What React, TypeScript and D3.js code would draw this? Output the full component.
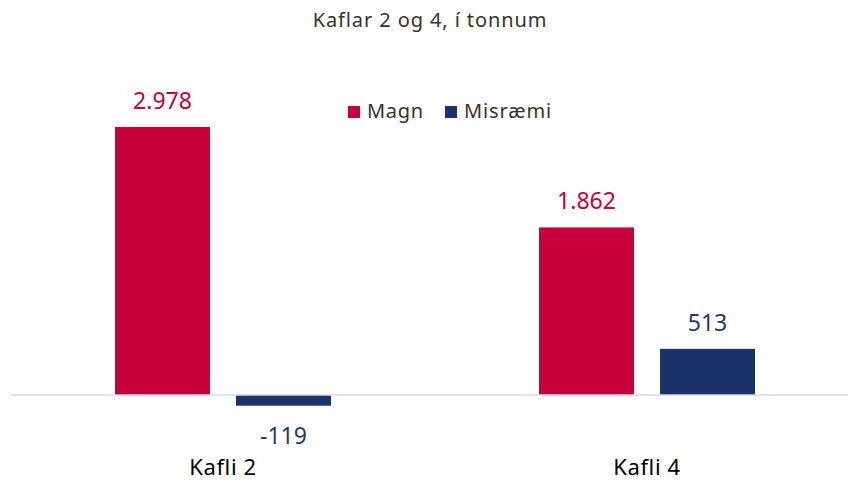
import React from "react";
import * as d3 from "d3";

const categories = ["Kafli 2", "Kafli 4"];
const seriesNames = ["Magn", "Misræmi"];
const magn = [2978, 1862];
const misraemi = [-119, 513];
const title = "Kaflar 2 og 4, í tonnum";

const colors: Record<string, string> = { Magn: "#C8003C", Misræmi: "#1B336A" };
const labelColors: Record<string, string> = { Magn: "#C8003C", Misræmi: "#1F3A73" };

const W = 848;
const H = 482;
const FONT = "'Noto Sans', 'Open Sans', sans-serif";

const fmt = (v: number) => {
  const s = Math.abs(v).toString().replace(/\B(?=(\d{3})+(?!\d))/g, ".");
  return (v < 0 ? "-" : "") + s;
};

export default function App() {
  const x0 = d3.scaleBand<string>().domain(categories).range([11, 859]).padding(0);
  const x1 = d3
    .scaleBand<string>()
    .domain(seriesNames)
    .range([-108, 108])
    .paddingInner(0.215)
    .paddingOuter(0);
  const y = d3.scaleLinear().domain([0, 2978]).range([395, 127]);

  const rows = categories.map((c, i) => ({ cat: c, values: [magn[i], misraemi[i]] }));

  return (
    <svg
      width={W}
      height={H}
      style={{ position: "absolute", left: 0, top: 0, fontFamily: FONT }}
    >
      <rect width={W} height={H} fill="#fff" />
      <text x={430} y={27} textAnchor="middle" fontSize={20} letterSpacing={0.9} fill="#333">
        {title}
      </text>

      {/* legend */}
      <g>
        <rect x={348} y={106} width={12} height={12} fill={colors.Magn} />
        <text x={367} y={118} fontSize={20} letterSpacing={0.7} fill="#333">Magn</text>
        <rect x={445} y={106} width={12} height={12} fill={colors["Misræmi"]} />
        <text x={464} y={118} fontSize={20} letterSpacing={0.9} fill="#333">Misræmi</text>
      </g>

      {rows.map((r) => {
        const cx = (x0(r.cat) as number) + x0.bandwidth() / 2;
        return (
          <g key={r.cat}>
            {r.values.map((v, j) => {
              const s = seriesNames[j];
              const bx = cx + (x1(s) as number);
              const bw = x1.bandwidth();
              const top = Math.min(y(v), y(0));
              const h = Math.abs(y(v) - y(0));
              const ly = v >= 0 ? y(v) - 18 : y(v) + 38;
              return (
                <g key={s}>
                  <rect x={bx} y={top} width={bw} height={h} fill={colors[s]} />
                  <text
                    x={bx + bw / 2}
                    y={ly}
                    textAnchor="middle"
                    fontSize={23}
                    fill={labelColors[s]}
                  >
                    {fmt(v)}
                  </text>
                </g>
              );
            })}
            <text x={cx} y={475} textAnchor="middle" fontSize={22} letterSpacing={0.6} fill="#000">
              {r.cat}
            </text>
          </g>
        );
      })}

      <line x1={11} x2={W} y1={y(0)} y2={y(0)} stroke="#d9d9d9" strokeWidth={1.5} />
    </svg>
  );
}
